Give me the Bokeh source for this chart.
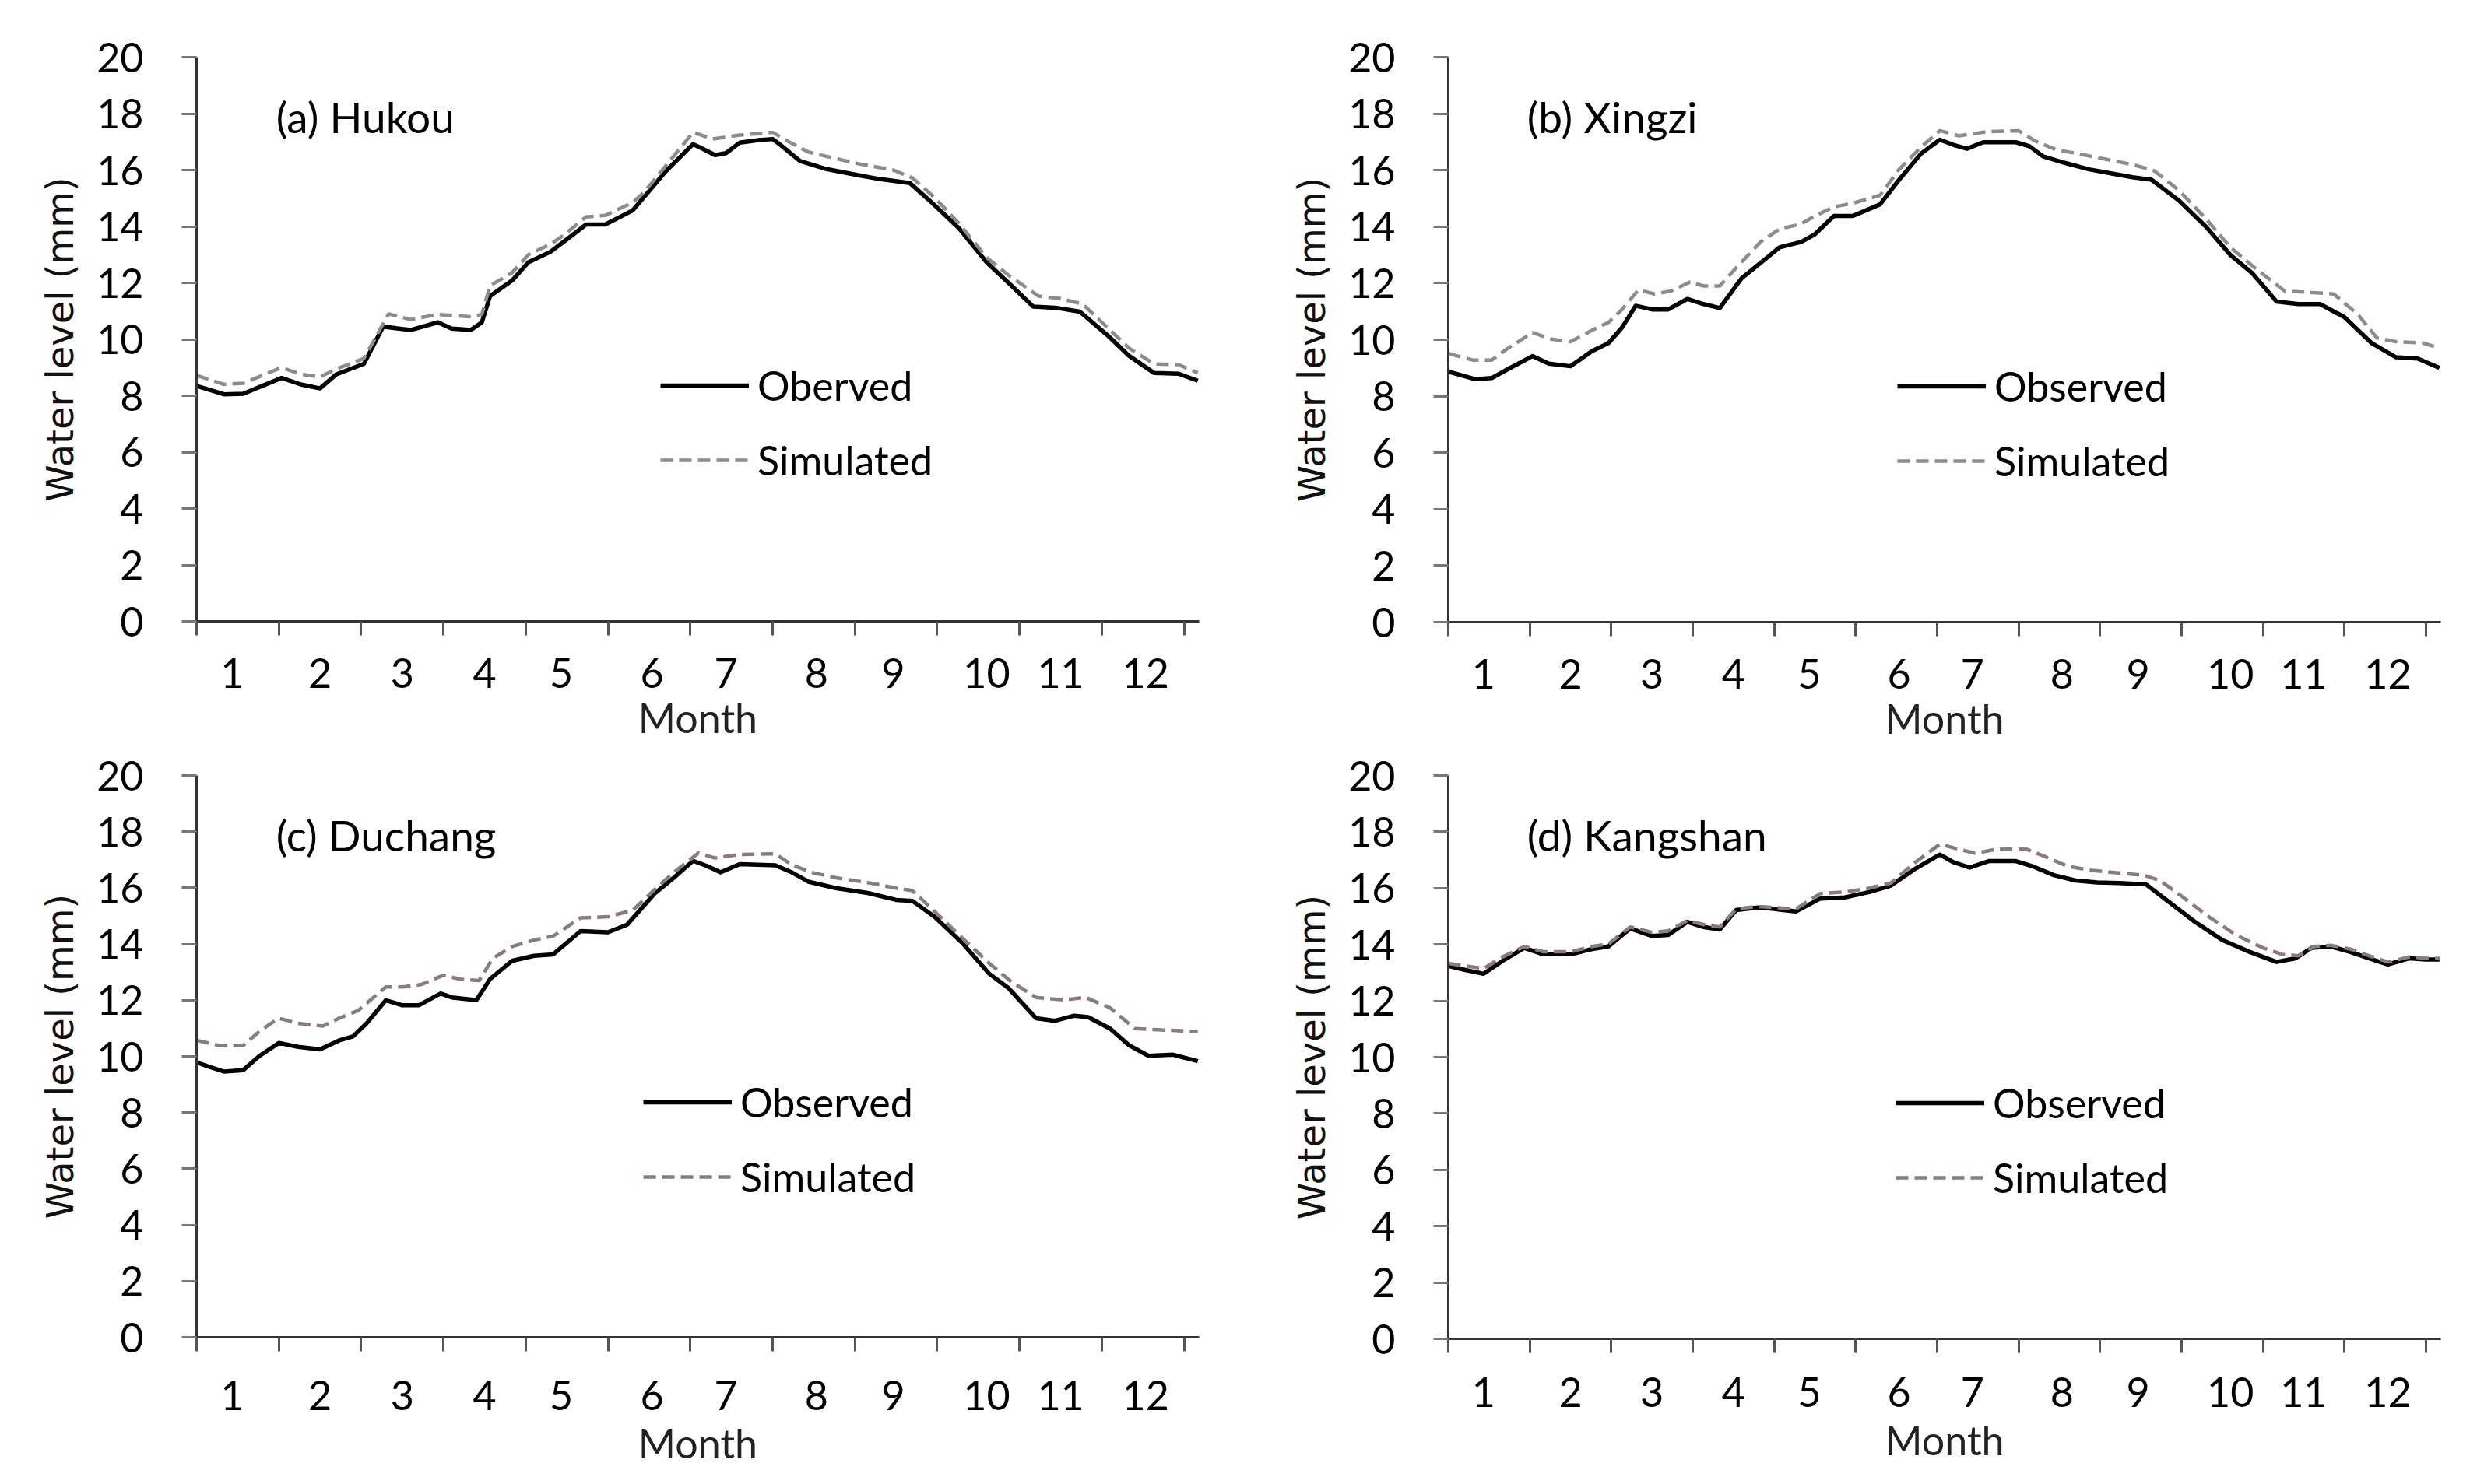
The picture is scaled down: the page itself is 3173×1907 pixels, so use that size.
from bokeh.plotting import figure
from bokeh.layouts import gridplot
from bokeh.models import FixedTicker, Legend, LegendItem, Label, Range1d
from bokeh.embed import file_html
from bokeh.resources import INLINE

FONT = "Lato"
YFONT = "DejaVu Sans"

# ---- axis definitions ----
month_bounds = [0, 30, 60, 90, 120, 150, 180, 210, 240, 270, 300, 330, 360]
month_label_pos = [13, 45, 75, 105, 133, 166, 193, 226, 254, 288, 315, 346]
month_labels = ["1", "2", "3", "4", "5", "6", "7", "8", "9", "10", "11", "12"]
y_ticks = [0, 2, 4, 6, 8, 10, 12, 14, 16, 18, 20]

# ---- (a) Hukou ----
hukou_obs_day = [0,10,17,31,38,45,51,61,68,78,88,93,100,104,107,115,121,129,134,142,149,159,163,171,181,184,189,193,198,205,210,213,220,229,241,249,260,268,278,288,296,305,313,322,332,340,349,358,365]
hukou_obs = [8.35,8.05,8.07,8.63,8.4,8.26,8.76,9.13,10.45,10.33,10.6,10.38,10.33,10.6,11.53,12.08,12.73,13.1,13.47,14.07,14.07,14.57,15.03,15.95,16.92,16.78,16.53,16.6,16.97,17.06,17.1,16.88,16.32,16.05,15.82,15.68,15.54,14.85,13.93,12.73,12.0,11.16,11.12,10.98,10.15,9.41,8.81,8.78,8.53]
hukou_sim_day = [0,10,17,31,38,45,51,61,70,78,88,100,104,107,115,121,129,134,142,149,159,163,171,181,188,198,205,210,216,223,229,241,254,261,269,278,288,296,307,315,323,332,340,349,358,365]
hukou_sim = [8.72,8.4,8.44,9.0,8.76,8.67,8.95,9.32,10.9,10.7,10.88,10.8,10.88,11.9,12.36,13.0,13.37,13.7,14.34,14.39,14.85,15.2,16.14,17.34,17.1,17.24,17.29,17.34,17.0,16.64,16.5,16.23,16.0,15.72,15.03,14.1,12.9,12.27,11.53,11.44,11.25,10.42,9.68,9.13,9.1,8.81]

# ---- (b) Xingzi ----
xingzi_obs_day = [0,10,16,22,31,37,45,53,59,64,69,75,81,88,94,100,108,115,122,130,135,142,149,159,166,174,181,186,191,197,209,214,219,227,236,244,252,259,269,279,288,296,305,313,321,330,340,349,357,365]
xingzi_obs = [8.87,8.6,8.64,8.96,9.42,9.15,9.06,9.6,9.88,10.43,11.2,11.07,11.07,11.44,11.26,11.12,12.17,12.72,13.27,13.46,13.73,14.38,14.38,14.79,15.66,16.58,17.08,16.9,16.76,16.99,16.99,16.85,16.49,16.26,16.03,15.89,15.75,15.66,14.93,14.0,13.0,12.36,11.35,11.26,11.26,10.8,9.88,9.38,9.33,9.0]
xingzi_sim_day = [0,9,16,22,31,38,45,53,59,64,70,76,82,89,94,100,106,115,122,130,135,142,149,159,166,174,181,188,198,210,216,224,232,242,252,260,269,279,288,297,308,318,326,335,342,349,359,365]
xingzi_sim = [9.51,9.28,9.28,9.7,10.25,10.02,9.93,10.34,10.61,11.07,11.76,11.62,11.72,12.04,11.9,11.9,12.54,13.46,13.92,14.1,14.38,14.7,14.83,15.11,16.03,16.81,17.4,17.22,17.36,17.4,17.04,16.72,16.58,16.39,16.2,15.98,15.29,14.28,13.27,12.54,11.72,11.67,11.62,10.89,10.06,9.93,9.88,9.7]

# ---- (c) Duchang ----
duchang_obs_day = [0,4,10,17,23,30,37,45,52,57,62,69,75,81,89,93,102,107,115,123,130,140,150,157,167,174,181,186,191,198,211,217,223,233,245,255,261,269,279,289,296,306,313,320,325,333,340,347,356,365]
duchang_obs = [9.79,9.65,9.46,9.51,10.02,10.48,10.34,10.25,10.57,10.71,11.18,12.0,11.82,11.82,12.24,12.1,12.0,12.75,13.4,13.58,13.63,14.46,14.42,14.69,15.8,16.36,16.96,16.78,16.55,16.84,16.8,16.55,16.22,15.99,15.81,15.57,15.53,14.97,14.05,12.94,12.43,11.36,11.27,11.45,11.4,10.99,10.39,10.02,10.06,9.83]
duchang_sim_day = [0,8,17,23,30,37,46,52,59,69,75,82,90,96,103,108,115,123,130,140,150,159,167,174,183,189,198,211,217,224,233,245,255,261,269,279,289,297,306,316,324,333,342,352,362,365]
duchang_sim = [10.57,10.39,10.39,10.9,11.36,11.18,11.08,11.36,11.64,12.47,12.47,12.56,12.89,12.75,12.7,13.49,13.91,14.14,14.28,14.93,14.97,15.2,15.94,16.55,17.24,17.06,17.19,17.21,16.82,16.55,16.36,16.18,15.99,15.9,15.16,14.23,13.31,12.66,12.1,12.01,12.1,11.73,10.99,10.94,10.9,10.88]

# ---- (d) Kangshan ----
kangshan_obs_day = [0,6,13,20,28,35,45,53,59,67,75,81,88,94,100,106,114,120,128,137,146,155,163,172,181,186,192,199,209,215,223,231,239,247,257,265,275,285,295,305,312,318,325,332,339,346,354,360,365]
kangshan_obs = [13.24,13.1,12.96,13.42,13.88,13.65,13.65,13.84,13.93,14.57,14.3,14.34,14.8,14.62,14.53,15.22,15.31,15.26,15.17,15.63,15.67,15.86,16.09,16.69,17.19,16.92,16.73,16.96,16.96,16.78,16.46,16.27,16.2,16.18,16.13,15.54,14.8,14.16,13.74,13.38,13.51,13.88,13.93,13.74,13.51,13.29,13.51,13.47,13.47]
kangshan_sim_day = [0,6,13,20,28,35,45,53,59,67,75,81,88,94,100,106,114,120,128,137,146,155,163,172,181,188,194,202,213,219,228,236,246,256,262,270,280,290,300,307,313,319,325,332,339,346,354,360,365]
kangshan_sim = [13.33,13.24,13.15,13.56,13.93,13.74,13.74,13.93,14.02,14.62,14.43,14.48,14.85,14.71,14.62,15.26,15.35,15.31,15.26,15.81,15.86,16.0,16.18,16.92,17.56,17.38,17.24,17.38,17.38,17.15,16.78,16.64,16.55,16.46,16.27,15.72,14.99,14.34,13.88,13.65,13.6,13.93,13.97,13.84,13.6,13.38,13.56,13.51,13.51]


def make_panel(title, obs_label, od, ov, sd, sv, sim_color, frame, borders, legend_xy,
               xlabel_standoff=29, xaxis_label_standoff=4):
    fw, fh = frame
    left, right, top, bottom = borders
    p = figure(frame_width=fw, frame_height=fh, output_backend="svg", toolbar_location=None,
               x_range=Range1d(0, 365.5), y_range=Range1d(0, 20),
               min_border_left=left, min_border_right=right,
               min_border_top=top, min_border_bottom=bottom)
    p.outline_line_color = None
    p.xgrid.visible = False
    p.ygrid.visible = False
    p.background_fill_color = "white"

    r_obs = p.line(od, ov, line_color="black", line_width=5.5, line_join="round")
    r_sim = p.line(sd, sv, line_color=sim_color, line_width=4.5, line_dash="16 8")

    # x axis: boundaries as tick marks, month numbers centred between them
    xa = p.xaxis[0]
    xa.ticker = FixedTicker(ticks=month_label_pos, minor_ticks=month_bounds)
    xa.major_label_overrides = {k: v for k, v in zip(month_label_pos, month_labels)}
    xa.major_tick_line_color = None
    xa.major_tick_out = 0
    xa.major_tick_in = 0
    xa.minor_tick_out = 18
    xa.minor_tick_in = 0
    xa.minor_tick_line_color = "#555555"
    xa.minor_tick_line_width = 3
    xa.major_label_standoff = xlabel_standoff
    xa.major_label_text_font = FONT
    xa.major_label_text_font_size = "52px"
    xa.major_label_text_color = "black"
    xa.axis_label = "Month"
    xa.axis_label_text_font = FONT
    xa.axis_label_text_font_size = "52px"
    xa.axis_label_text_font_style = "normal"
    xa.axis_label_text_color = "#222222"
    xa.axis_label_standoff = xaxis_label_standoff
    xa.axis_line_color = "#333333"
    xa.axis_line_width = 3

    ya = p.yaxis[0]
    ya.ticker = FixedTicker(ticks=y_ticks)
    ya.major_tick_out = 19
    ya.major_tick_in = 0
    ya.major_tick_line_color = "#777777"
    ya.major_tick_line_width = 3
    ya.minor_tick_line_color = None
    ya.major_label_standoff = 49
    ya.major_label_text_font = FONT
    ya.major_label_text_font_size = "52px"
    ya.major_label_text_color = "black"
    ya.axis_label = "Water level (mm)"
    ya.axis_label_text_font = YFONT
    ya.axis_label_text_font_size = "48px"
    ya.axis_label_text_font_style = "normal"
    ya.axis_label_text_color = "#111111"
    ya.axis_label_standoff = 16
    ya.axis_line_color = "#333333"
    ya.axis_line_width = 3

    p.add_layout(Label(x=29, y=17.88, text=title, text_font=FONT,
                       text_font_size="55px", text_baseline="middle",
                       text_align="left", text_color="black"))

    legend = Legend(items=[LegendItem(label=obs_label, renderers=[r_obs]),
                           LegendItem(label="Simulated", renderers=[r_sim])],
                    location=legend_xy, orientation="vertical",
                    glyph_width=114, glyph_height=70, label_height=70,
                    label_standoff=11, spacing=26, padding=0, margin=0,
                    border_line_color=None, background_fill_alpha=0,
                    label_text_font=FONT, label_text_font_size="52px",
                    label_text_color="black")
    p.add_layout(legend)
    return p


pa = make_panel("(a) Hukou", "Oberved", hukou_obs_day, hukou_obs, hukou_sim_day, hukou_sim,
                "#8c8c8c", (1288, 725), (252, 50, 73, 152), (596, 172))
pb = make_panel("(b) Xingzi", "Observed", xingzi_obs_day, xingzi_obs, xingzi_sim_day, xingzi_sim,
                "#8c8c8c", (1275, 726), (270, 35, 70, 154), (577, 172))
pc = make_panel("(c) Duchang", "Observed", duchang_obs_day, duchang_obs, duchang_sim_day, duchang_sim,
                "#8a7b7d", (1288, 722), (250, 52, 38, 175), (574, 171),
                xlabel_standoff=37, xaxis_label_standoff=8)
pd = make_panel("(d) Kangshan", "Observed", kangshan_obs_day, kangshan_obs, kangshan_sim_day, kangshan_sim,
                "#8a7b7d", (1275, 724), (267, 38, 41, 170), (575, 172),
                xlabel_standoff=31, xaxis_label_standoff=8)

grid = gridplot([[pa, pb], [pc, pd]], toolbar_location=None)

open("out.html", "w").write(file_html(grid, INLINE))
